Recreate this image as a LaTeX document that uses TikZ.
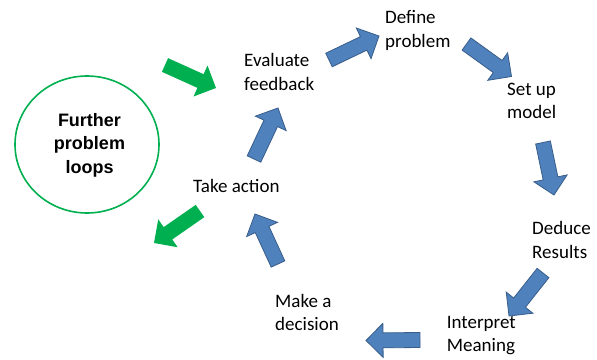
\documentclass[tikz,border=0pt]{standalone}
\usepackage{fontspec}
\setmainfont{Carlito}
\newfontfamily\arialfont{Liberation Sans}
\usetikzlibrary{calc,shapes.geometric}

\definecolor{stepblue}{HTML}{4F81BD}
\definecolor{stepblueedge}{HTML}{385D8A}
\definecolor{loopgreen}{HTML}{00B050}

% block arrow from a tail coordinate to a tip coordinate
\newcommand\blockarrow[3]{%
  \coordinate (#3-base) at ($(#3)!17pt!(#2)$);
  \path[#1] ($(#2)!7.5pt!90:(#3)$) -- ($(#3-base)!7.5pt!90:(#3)$)
    -- ($(#3-base)!17pt!90:(#3)$) -- (#3)
    -- ($(#3-base)!17pt!-90:(#3)$) -- ($(#3-base)!7.5pt!-90:(#3)$)
    -- ($(#2)!7.5pt!-90:(#3)$) -- cycle;
}

% labels are placed by the baseline of their last line
\tikzset{
  steplabel/.style={anchor=base west, inner sep=0pt, align=left,
    font=\fontsize{19}{23.5}\selectfont, text=black},
  bluearrow/.style={fill=stepblue, draw=stepblueedge, line width=0.8pt, line join=miter},
  greenarrow/.style={fill=loopgreen},
}

\begin{document}
\begin{tikzpicture}[x=1pt, y=-1pt]
\useasboundingbox (0,0) rectangle (597,359);

% stage labels
\node[steplabel] (evaluate)  at (244,90)      {Evaluate\\feedback};
\node[steplabel] (define)    at (385,47)      {Define\\problem};
\node[steplabel] (setup)     at (507,118.8)   {Set up\\model};
\node[steplabel] (deduce)    at (532,258)     {Deduce\\Results};
\node[steplabel] (interpret) at (446.7,351.7) {Interpret\\Meaning};
\node[steplabel] (decision)  at (275,330.5)   {Make a\\decision};
\node[steplabel] (action)    at (193,192)     {Take action};

% side loop
\node[draw=loopgreen, line width=1.6pt, ellipse, minimum width=144pt, minimum height=137pt, inner sep=0pt] (loops) at (87,144.5) {};
\node[inner sep=0pt, anchor=base, align=center,
      font=\arialfont\bfseries\fontsize{18}{23.5}\selectfont] (loopstext) at (89.5,173)
      {Further\\problem\\loops};

% arrow ends
\coordinate (g1t) at (165,65);    \coordinate (g1h) at (216,88);
\coordinate (b2t) at (254,159);   \coordinate (b2h) at (278,108);
\coordinate (b3t) at (329,60);    \coordinate (b3h) at (379,36);
\coordinate (b4t) at (466.5,44);  \coordinate (b4h) at (511.5,76.5);
\coordinate (b5t) at (543,142.5); \coordinate (b5h) at (554,195);
\coordinate (b6t) at (543,273);   \coordinate (b6h) at (509,316);
\coordinate (b7t) at (420,340);   \coordinate (b7h) at (366,340.5);
\coordinate (b8t) at (278,264);   \coordinate (b8h) at (255,214);
\coordinate (g9t) at (200,211);   \coordinate (g9h) at (154,243);

\blockarrow{greenarrow}{g1t}{g1h}
\blockarrow{bluearrow}{b2t}{b2h}
\blockarrow{bluearrow}{b3t}{b3h}
\blockarrow{bluearrow}{b4t}{b4h}
\blockarrow{bluearrow}{b5t}{b5h}
\blockarrow{bluearrow}{b6t}{b6h}
\blockarrow{bluearrow}{b7t}{b7h}
\blockarrow{bluearrow}{b8t}{b8h}
\blockarrow{greenarrow}{g9t}{g9h}
\end{tikzpicture}
\end{document}
